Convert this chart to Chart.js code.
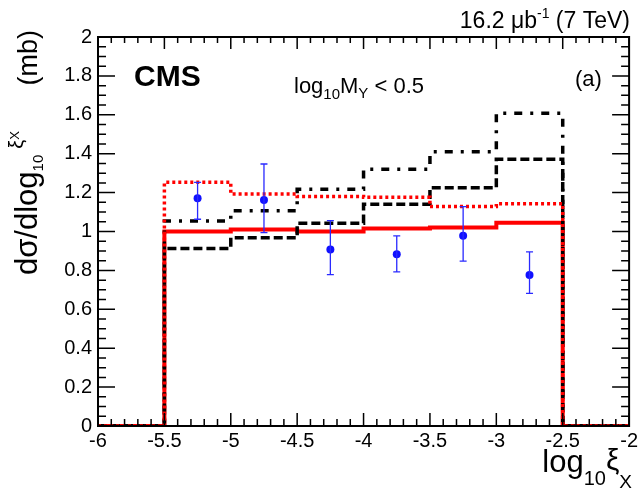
<!DOCTYPE html>
<html>
<head>
<meta charset="utf-8">
<script src="https://cdn.jsdelivr.net/npm/chart.js@4"></script>
<style>
  body { margin: 0; background: #fff; }
  canvas { display: block; }
</style>
</head>
<body>
<canvas id="xsec" width="641" height="490"></canvas>
<script>
// bin edges in log10(xi_X), first and last bins are empty
const binEdges = [-6, -5.5, -5, -4.5, -4, -3.5, -3, -2.5, -2];

// model curves, one value per bin (cross section in mb)
const redSolid  = [0, 1.00, 1.01, 1.00, 1.015, 1.02, 1.045, 0];
const redDotted = [0, 1.253, 1.193, 1.18, 1.176, 1.128, 1.143, 0];
const blackDash = [0, 0.913, 0.968, 1.042, 1.14, 1.225, 1.371, 0];
const blackDashDot = [0, 1.054, 1.107, 1.217, 1.32, 1.41, 1.608, 0];

// measured points with error bars
const dataX  = [-5.25, -4.75, -4.25, -3.75, -3.25, -2.75];
const dataY  = [1.171, 1.162, 0.908, 0.883, 0.978, 0.776];
const dataLo = [1.063, 0.994, 0.778, 0.792, 0.848, 0.682];
const dataHi = [1.253, 1.347, 1.056, 0.978, 1.128, 0.895];

const xTicks = [-6, -5.5, -5, -4.5, -4, -3.5, -3, -2.5, -2];
const yTicks = [0, 0.2, 0.4, 0.6, 0.8, 1, 1.2, 1.4, 1.6, 1.8, 2];

const FONT = '"Liberation Sans", Arial, sans-serif';

// histogram -> points for a stepped line (value at left edge)
function histPoints(vals) {
    return binEdges.map(function(e, i) {
        return { x: e, y: i < vals.length ? vals[i] : vals[vals.length - 1] };
    });
}

// draw a sequence of text pieces (normal, sub/superscripts) on one baseline
function drawRuns(ctx, x, y, runs, align) {
    let total = 0;
    runs.forEach(function(r) {
        ctx.font = (r.bold ? 'bold ' : '') + r.size + 'px ' + FONT;
        r.w = ctx.measureText(r.t).width + (r.gap || 0);
        total += r.w;
    });
    let cx = align === 'right' ? x - total : x;
    ctx.textAlign = 'left';
    ctx.textBaseline = 'alphabetic';
    runs.forEach(function(r) {
        ctx.font = (r.bold ? 'bold ' : '') + r.size + 'px ' + FONT;
        ctx.fillText(r.t, cx + (r.gap || 0), y + (r.dy || 0));
        cx += r.w;
    });
}

// error bars, then the ROOT style inner ticks and frame
const overlayPlugin = {
    id: 'overlay',
    afterDatasetsDraw: function(chart) {
        const ctx = chart.ctx;
        const xs = chart.scales.x, ys = chart.scales.y;
        const a = chart.chartArea;
        ctx.save();
        ctx.setLineDash([]);

        // error bars
        ctx.strokeStyle = '#2a2aff';
        ctx.lineWidth = 1.3;
        for (let i = 0; i < dataX.length; i++) {
            const px = xs.getPixelForValue(dataX[i]);
            const lo = ys.getPixelForValue(dataLo[i]);
            const hi = ys.getPixelForValue(dataHi[i]);
            ctx.beginPath();
            ctx.moveTo(px, lo); ctx.lineTo(px, hi);
            ctx.moveTo(px - 3.5, lo); ctx.lineTo(px + 3.5, lo);
            ctx.moveTo(px - 3.5, hi); ctx.lineTo(px + 3.5, hi);
            ctx.stroke();
        }

        // ticks on all four sides: major 0.5 / 0.2, minor 0.1 / 0.05
        ctx.strokeStyle = '#000';
        ctx.lineWidth = 1.5;
        for (let k = 0; k <= 40; k++) {
            const px = xs.getPixelForValue(-6 + k * 0.1);
            const major = k % 5 === 0;
            const lb = major ? 13 : 7, lt = major ? 12 : 6;
            ctx.beginPath();
            ctx.moveTo(px, a.bottom); ctx.lineTo(px, a.bottom - lb);
            ctx.moveTo(px, a.top); ctx.lineTo(px, a.top + lt);
            ctx.stroke();
        }
        for (let k = 0; k <= 40; k++) {
            const py = ys.getPixelForValue(k * 0.05);
            const l = k % 4 === 0 ? 17 : 8;
            ctx.beginPath();
            ctx.moveTo(a.left, py); ctx.lineTo(a.left + l, py);
            ctx.moveTo(a.right, py); ctx.lineTo(a.right - l, py);
            ctx.stroke();
        }

        // frame
        ctx.lineWidth = 2;
        ctx.strokeRect(a.left, a.top, a.right - a.left, a.bottom - a.top);
        ctx.restore();
    }
};

// titles and labels
const textPlugin = {
    id: 'texts',
    afterDraw: function(chart) {
        const ctx = chart.ctx;
        ctx.save();
        ctx.fillStyle = '#000';
        drawRuns(ctx, 134, 86, [{ t: 'CMS', size: 30, bold: true }]);
        drawRuns(ctx, 575, 86, [{ t: '(a)', size: 22 }]);
        drawRuns(ctx, 294, 93, [
            { t: 'log', size: 22 },
            { t: '10', size: 15, dy: 6 },
            { t: 'M', size: 22 },
            { t: 'Y', size: 15, dy: 5 },
            { t: ' < 0.5', size: 22 }
        ]);
        drawRuns(ctx, 630, 28, [
            { t: '16.2 \u03bcb', size: 23 },
            { t: '-1', size: 14, dy: -10 },
            { t: ' (7 TeV)', size: 23 }
        ], 'right');
        drawRuns(ctx, 632, 472, [
            { t: 'log', size: 31 },
            { t: '10', size: 20, dy: 13 },
            { t: '\u03be', size: 30, dy: -2 },
            { t: 'X', size: 19, dy: 16 }
        ], 'right');
        // y title, rotated, reading upwards
        ctx.translate(37, 275);
        ctx.rotate(-Math.PI / 2);
        drawRuns(ctx, 0, 0, [
            { t: 'd\u03c3/dlog', size: 31 },
            { t: '10', size: 15, dy: 6 },
            { t: '\u03be', size: 20, dy: -14, gap: 6 },
            { t: 'X', size: 13, dy: -18 }
        ]);
        drawRuns(ctx, 245, 0, [{ t: '(mb)', size: 27 }], 'right');
        ctx.restore();
    }
};

function histDataset(vals, color, width, dash) {
    return {
        type: 'line',
        data: histPoints(vals),
        stepped: true,
        borderColor: color,
        borderWidth: width,
        borderDash: dash,
        borderCapStyle: 'butt',
        borderJoinStyle: 'miter',
        pointRadius: 0,
        fill: false
    };
}

new Chart(document.getElementById('xsec').getContext('2d'), {
    data: {
        datasets: [
            {
                type: 'scatter',
                data: dataX.map(function(x, i) { return { x: x, y: dataY[i] }; }),
                backgroundColor: '#1010ff',
                borderColor: '#1010ff',
                pointRadius: 4,
                pointBorderWidth: 0
            },
            histDataset(redDotted, '#ff0000', 3.5, [3, 3]),
            histDataset(blackDashDot, '#000000', 3.5, [8, 8, 3, 8]),
            histDataset(blackDash, '#000000', 3.5, [9, 4]),
            histDataset(redSolid, '#ff0000', 4, [])
        ]
    },
    options: {
        responsive: false,
        animation: false,
        events: [],
        layout: { padding: { left: 0, right: 10, top: 37, bottom: 0 } },
        plugins: {
            legend: { display: false },
            tooltip: { enabled: false }
        },
        scales: {
            x: {
                type: 'linear',
                min: -6,
                max: -2,
                afterFit: function(s) { s.height = 64; },
                afterBuildTicks: function(s) { s.ticks = xTicks.map(function(v) { return { value: v }; }); },
                grid: { display: false, drawTicks: false },
                border: { display: false },
                ticks: {
                    padding: 3,
                    color: '#000',
                    font: { family: FONT, size: 20 },
                    maxRotation: 0,
                    callback: function(v) { return String(+v.toFixed(2)); }
                }
            },
            y: {
                type: 'linear',
                min: 0,
                max: 2,
                afterFit: function(s) { s.width = 98; },
                afterBuildTicks: function(s) { s.ticks = yTicks.map(function(v) { return { value: v }; }); },
                grid: { display: false, drawTicks: false },
                border: { display: false },
                ticks: {
                    padding: 6,
                    color: '#000',
                    font: { family: FONT, size: 20 },
                    callback: function(v) { return String(+v.toFixed(2)); }
                }
            }
        }
    },
    plugins: [overlayPlugin, textPlugin]
});
</script>
</body>
</html>
